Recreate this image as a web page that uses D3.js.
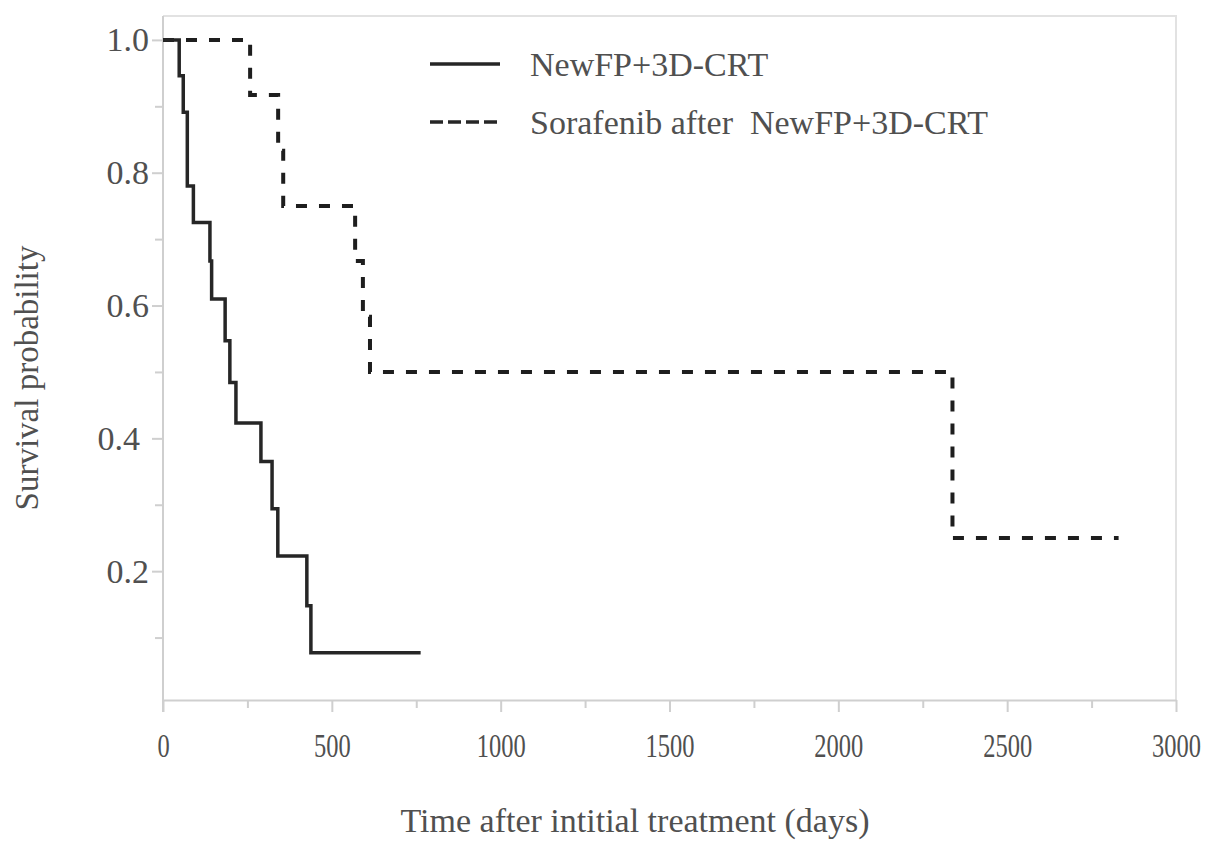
<!DOCTYPE html>
<html>
<head>
<meta charset="utf-8">
<script src="https://cdn.jsdelivr.net/npm/d3@7"></script>
<style>
  html, body { margin: 0; padding: 0; background: #fff; }
  svg { display: block; }
  text { font-family: "Liberation Serif", "DejaVu Serif", serif; fill: #505050; }
</style>
</head>
<body>
<svg id="chart" width="1205" height="853"></svg>
<script>
// ---- Data ----
const seriesNames = ["NewFP+3D-CRT", "Sorafenib after  NewFP+3D-CRT"];
// NewFP+3D-CRT: step times (days) and survival after each step
const solidTimes = [0, 48, 60, 72, 90, 139, 144, 184, 198, 216, 290, 323, 340, 426, 438];
const solidSurv  = [1.0, 0.946, 0.891, 0.78, 0.725, 0.667, 0.61, 0.547, 0.484, 0.423, 0.365, 0.294, 0.223, 0.148, 0.077];
const solidEnd = 763;
// Sorafenib after NewFP+3D-CRT
const dashTimes = [0, 258, 341, 356, 569, 592, 613, 2338];
const dashSurv  = [1.0, 0.917, 0.833, 0.75, 0.667, 0.583, 0.5, 0.25];
const dashEnd = 2830;
// Ticks
const xMajorTicks = [0, 500, 1000, 1500, 2000, 2500, 3000];
const xMinorTicks = [250, 750, 1250, 1750, 2250, 2750];
const yMajorTicks = [0.2, 0.4, 0.6, 0.8, 1.0];
const yMinorTicks = [0.1, 0.3, 0.5, 0.7, 0.9];
const xTitle = "Time after intitial treatment (days)";
const yTitle = "Survival probability";

// ---- Layout ----
const mLeft = 163, mRight = 1176, mTop = 16, mBottom = 700;
const svg = d3.select("#chart");

const x = d3.scaleLinear().domain([0, 3000]).range([mLeft, mRight]);
const y = d3.scaleLinear().domain([0.006, 1.036]).range([mBottom, mTop]);

// frame (top and right)
svg.append("path")
  .attr("d", `M${mLeft},${mTop}H${mRight}V${mBottom}`)
  .attr("fill", "none").attr("stroke", "#e2e2e2").attr("stroke-width", 2);

// X axis
const gx = svg.append("g").attr("transform", `translate(0,${mBottom})`);
gx.call(d3.axisBottom(x).tickValues(xMinorTicks).tickSize(8).tickFormat(""));
gx.call(g => g.select(".domain").remove());
const gxM = svg.append("g").attr("transform", `translate(0,${mBottom})`);
gxM.call(d3.axisBottom(x).tickValues(xMajorTicks).tickSize(12).tickSizeOuter(0).tickFormat(d3.format("d")));
[gx, gxM].forEach(g => {
  g.selectAll("line").attr("stroke", "#cfcfcf").attr("stroke-width", 2);
  g.selectAll(".domain").attr("stroke", "#cfcfcf").attr("stroke-width", 2);
});
// condensed tick labels (narrow digits as in the reference)
gxM.selectAll("text")
  .attr("y", 0).attr("dy", 0)
  .attr("transform", "translate(0,57) scale(0.72,1)")
  .style("font-size", "34px")
  .attr("fill", "#505050");

// Y axis
const gy = svg.append("g").attr("transform", `translate(${mLeft},0)`);
gy.call(d3.axisLeft(y).tickValues(yMinorTicks).tickSize(8).tickFormat(""));
gy.call(g => g.select(".domain").remove());
const gyM = svg.append("g").attr("transform", `translate(${mLeft},0)`);
gyM.call(d3.axisLeft(y).tickValues(yMajorTicks).tickSize(11).tickSizeOuter(0).tickPadding(3).tickFormat(d3.format(".1f")));
[gy, gyM].forEach(g => {
  g.selectAll("line").attr("stroke", "#cfcfcf").attr("stroke-width", 2);
  g.selectAll(".domain").attr("stroke", "#cfcfcf").attr("stroke-width", 2);
});
gyM.select(".domain").attr("d", `M0,${mTop}V${mBottom + 12}`);
gyM.selectAll("text")
  .style("font-size", "34px")
  .attr("fill", "#505050")
  .attr("dx", d => (Math.abs(d - 0.4) < 1e-9 ? -9 : 0));

// Axis titles
svg.append("text")
  .attr("x", 635).attr("y", 832)
  .attr("text-anchor", "middle")
  .style("font-size", "34px")
  .text(xTitle);
svg.append("text")
  .attr("transform", `translate(38,378) rotate(-90)`)
  .attr("text-anchor", "middle")
  .style("font-size", "33px")
  .text(yTitle);

// Curves
function stepPoints(times, surv, end) {
  const pts = times.map((t, i) => [t, surv[i]]);
  pts.push([end, surv[surv.length - 1]]);
  return pts;
}
const line = d3.line().x(d => x(d[0])).y(d => y(d[1])).curve(d3.curveStepAfter);

svg.append("path")
  .datum(stepPoints(dashTimes, dashSurv, dashEnd))
  .attr("d", line)
  .attr("fill", "none").attr("stroke", "#1e1e1e")
  .attr("stroke-width", 4).attr("stroke-dasharray", "11,12");

svg.append("path")
  .datum(stepPoints(solidTimes, solidSurv, solidEnd))
  .attr("d", line)
  .attr("fill", "none").attr("stroke", "#262626")
  .attr("stroke-width", 3.5);

// Legend
const legend = svg.append("g");
const legendRows = [
  { name: seriesNames[0], dash: null, y: 64 },
  { name: seriesNames[1], dash: "13,5", y: 122 }
];
legendRows.forEach(r => {
  legend.append("line")
    .attr("x1", 430).attr("x2", 500).attr("y1", r.y).attr("y2", r.y)
    .attr("stroke", "#262626").attr("stroke-width", 3.5)
    .attr("stroke-dasharray", r.dash);
  legend.append("text")
    .attr("x", 530).attr("y", r.y + 11.5)
    .style("font-size", "34px")
    .style("white-space", "pre")
    .text(r.name);
});
</script>
</body>
</html>
